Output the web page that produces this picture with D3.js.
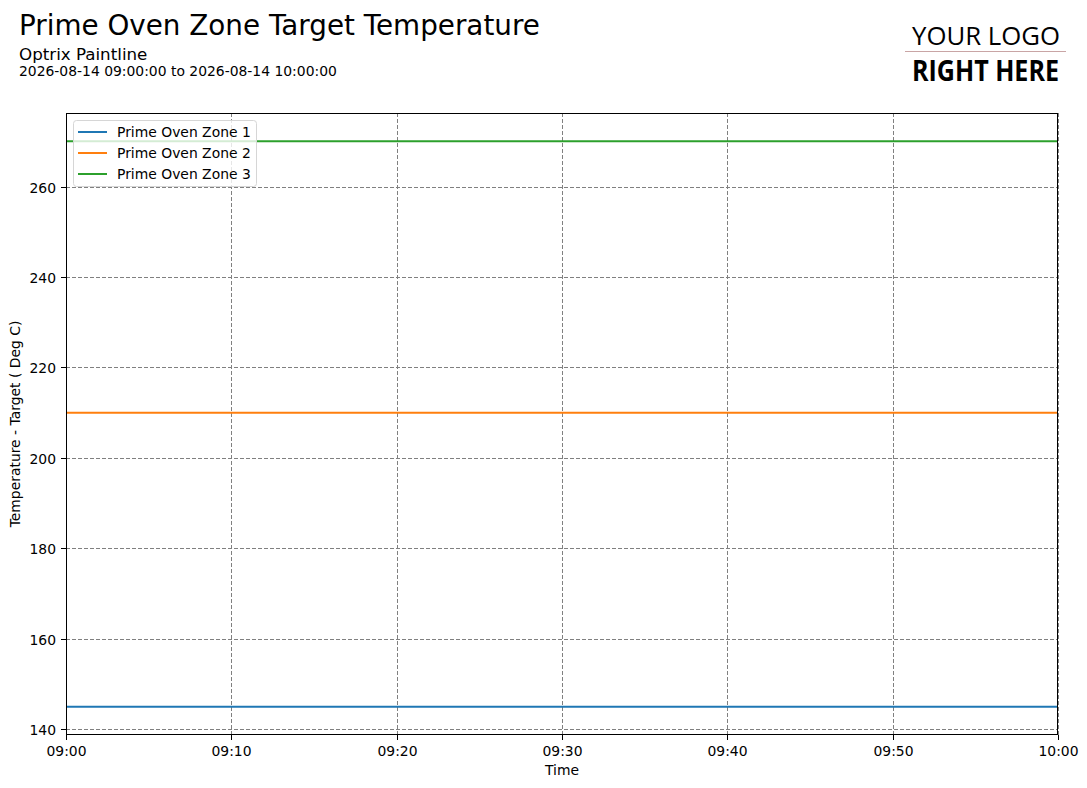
<!DOCTYPE html>
<html><head><meta charset="utf-8">
<script src="https://cdn.jsdelivr.net/npm/d3@7"></script>
<style>body{margin:0;background:#fff;} svg{display:block;font-family:"DejaVu Sans",sans-serif;}</style>
</head><body>
<svg id="c" width="1087" height="788"></svg>
<script>
const seriesNames = ["Prime Oven Zone 1","Prime Oven Zone 2","Prime Oven Zone 3"];
const seriesColors = ["#1f77b4","#ff7f0e","#2ca02c"];
const times = ["2026-08-14T09:00:00","2026-08-14T10:00:00"];
const zone1 = [145,145];
const zone2 = [210,210];
const zone3 = [270,270];
const yTicks = [140,160,180,200,220,240,260];
const xTickLabels = ["09:00","09:10","09:20","09:30","09:40","09:50","10:00"];

const parse = d3.timeParse("%Y-%m-%dT%H:%M:%S");
const tDates = times.map(parse);
const allSeries = [zone1,zone2,zone3];

const svg = d3.select("#c");
const L=66,R=1058,T=113,B=735;
const FS = 13.9;
const x = d3.scaleTime().domain([tDates[0],tDates[1]]).range([L,R]);
const yMin = d3.min(allSeries.flat()), yMax = d3.max(allSeries.flat());
const pad = (yMax-yMin)*0.05;
const y = d3.scaleLinear().domain([yMin-pad,yMax+pad]).range([B,T]);

// titles
svg.append("text").attr("x",19).attr("y",35).attr("font-size",27.8).text("Prime Oven Zone Target Temperature");
svg.append("text").attr("x",19).attr("y",60).attr("font-size",16.7).text("Optrix Paintline");
svg.append("text").attr("x",19).attr("y",76).attr("font-size",FS).text("2026-08-14 09:00:00 to 2026-08-14 10:00:00");

// logo
svg.append("text").attr("x",912).attr("y",45).attr("font-family","'Open Sans',sans-serif").attr("font-weight",400)
  .attr("font-size",26).attr("textLength",148).attr("lengthAdjust","spacingAndGlyphs").text("YOUR LOGO");
svg.append("line").attr("x1",905).attr("x2",1066).attr("y1",51.5).attr("y2",51.5).attr("stroke","#c9a5a5").attr("stroke-width",1);
svg.append("text").attr("x",912).attr("y",81).attr("font-family","'Open Sans',sans-serif").attr("font-weight",700)
  .attr("font-size",28).attr("textLength",147).attr("lengthAdjust","spacingAndGlyphs").text("RIGHT HERE");

// x ticks
const xTickDates = xTickLabels.map(s=>parse("2026-08-14T"+s+":00"));
const gx = svg.append("g");
xTickDates.forEach((d,i)=>{
  const px = Math.round(x(d))+0.5;
  gx.append("line").attr("x1",px).attr("x2",px).attr("y1",T).attr("y2",B).attr("stroke","#808080").attr("stroke-width",1).attr("stroke-dasharray","4,2");
  gx.append("line").attr("x1",px).attr("x2",px).attr("y1",B).attr("y2",B+5).attr("stroke","#000");
  gx.append("text").attr("x",px).attr("y",756).attr("text-anchor","middle").attr("font-size",FS).text(xTickLabels[i]);
});
const gy = svg.append("g");
yTicks.forEach(v=>{
  const py = Math.round(y(v))+0.5;
  gy.append("line").attr("x1",L).attr("x2",R).attr("y1",py).attr("y2",py).attr("stroke","#808080").attr("stroke-width",1).attr("stroke-dasharray","4,2");
  gy.append("line").attr("x1",L-5).attr("x2",L).attr("y1",py).attr("y2",py).attr("stroke","#000");
  gy.append("text").attr("x",L-10).attr("y",py+5).attr("text-anchor","end").attr("font-size",FS).text(v);
});

// lines
const line = d3.line().x((d,i)=>x(tDates[i])).y(d=>y(d));
allSeries.forEach((s,i)=>{
  svg.append("path").datum(s).attr("d",line).attr("fill","none").attr("stroke",seriesColors[i]).attr("stroke-width",2);
});

// frame
svg.append("rect").attr("x",L+0.5).attr("y",T+0.5).attr("width",R-L-1).attr("height",B-T-1).attr("fill","none").attr("stroke","#000").attr("stroke-width",1);

// axis labels
svg.append("text").attr("x",(L+R)/2).attr("y",775).attr("text-anchor","middle").attr("font-size",FS).text("Time");
svg.append("text").attr("transform",`translate(20,${(T+B)/2}) rotate(-90)`).attr("text-anchor","middle").attr("font-size",FS).text("Temperature - Target ( Deg C)");

// legend
const lg = svg.append("g");
lg.append("rect").attr("x",73.5).attr("y",120.5).attr("width",183).attr("height",66).attr("rx",3)
  .attr("fill","rgba(255,255,255,0.8)").attr("stroke","#d6d6d6");
seriesNames.forEach((n,i)=>{
  const ly = 132+i*21;
  lg.append("line").attr("x1",78).attr("x2",107).attr("y1",ly).attr("y2",ly).attr("stroke",seriesColors[i]).attr("stroke-width",2);
  lg.append("text").attr("x",117).attr("y",ly+5).attr("font-size",FS).text(n);
});
</script>
</body></html>
